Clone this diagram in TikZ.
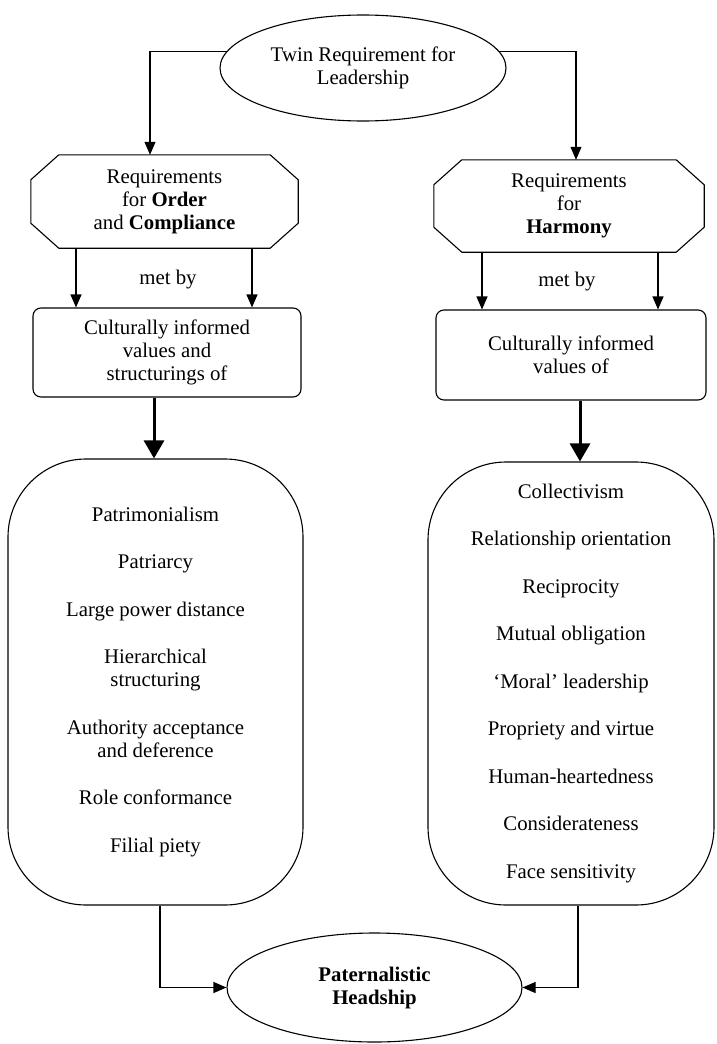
\documentclass[tikz,border=0pt]{standalone}
\usepackage{fontspec}
\setmainfont{Liberation Serif}
\usetikzlibrary{shapes.geometric,arrows.meta}
\begin{document}
\begin{tikzpicture}[x=1pt,y=-1pt,
  every node/.style={font=\fontsize{20.8}{23}\selectfont, align=center, inner sep=0pt},
  ln/.style={line width=1.1pt},
  arr/.style={ln, -{Triangle[length=13pt,width=11pt]}},
  thickarr/.style={line width=3pt, -{Triangle[length=18pt,width=20pt]}},
  ell/.style={draw, ellipse, ln},
  octnode/.style={rectangle},
  smallbox/.style={draw, rectangle, ln, rounded corners=8pt},
  bigbox/.style={draw, rectangle, ln, rounded corners=78pt},
]
\useasboundingbox (0,0) rectangle (716,1044);

% nodes
\node[ell, minimum width=286pt, minimum height=106pt] (top) at (363,68) {Twin Requirement for\\Leadership};

\node[octnode, minimum width=267pt, minimum height=93pt] (oL) at (164.5,201.5) {Requirements\\for \textbf{Order}\\and \textbf{Compliance}};
\node[octnode, minimum width=270pt, minimum height=92pt] (oR) at (569,206) {Requirements\\for\\\textbf{Harmony}};

\foreach \n in {oL,oR}{
  \draw[ln] ([xshift=28pt]\n.north west) -- ([xshift=-28pt]\n.north east)
    -- ([yshift=-25pt]\n.north east) -- ([yshift=25pt]\n.south east)
    -- ([xshift=-28pt]\n.south east) -- ([xshift=28pt]\n.south west)
    -- ([yshift=25pt]\n.south west) -- ([yshift=-25pt]\n.north west) -- cycle;
}

\node (mL) at (168,280) {met by};
\node (mR) at (567,282) {met by};

\node[smallbox, minimum width=268pt, minimum height=89pt] (bL) at (167,352.5) {Culturally informed\\values and\\structurings of};
\node[smallbox, minimum width=270pt, minimum height=90pt] (bR) at (571,355) {Culturally informed\\values of};

\node[bigbox, minimum width=295pt, minimum height=446pt] (BL) at (155.5,682) {Patrimonialism\\[24.5pt]
Patriarcy\\[24.5pt]
Large power distance\\[24.5pt]
Hierarchical\\structuring\\[24.5pt]
Authority acceptance\\and deference\\[24.5pt]
Role conformance\\[24.5pt]
Filial piety};

\node[bigbox, minimum width=286pt, minimum height=443pt] (BR) at (571,683.5) {Collectivism\\[24.5pt]
Relationship orientation\\[24.5pt]
Reciprocity\\[24.5pt]
Mutual obligation\\[24.5pt]
`Moral' leadership\\[24.5pt]
Propriety and virtue\\[24.5pt]
Human-heartedness\\[24.5pt]
Considerateness\\[24.5pt]
Face sensitivity};

\node[ell, minimum width=295pt, minimum height=109pt] (bot) at (374.5,987.5) {\textbf{Paternalistic}\\\textbf{Headship}};

% x positions of connectors
\coordinate (xa) at (76,0);
\coordinate (xb) at (252,0);
\coordinate (xc) at (482,0);
\coordinate (xd) at (658,0);
\coordinate (xt1) at (154,0);
\coordinate (xt2) at (580,0);
\coordinate (xe) at (160,0);
\coordinate (xf) at (578,0);

% connectors
\draw[arr] (top.173) -| ([xshift=-14.5pt]oL.north);
\draw[arr] (top.7) -| ([xshift=7pt]oR.north);

\draw[arr] (oL.south -| xa) -- (bL.north -| xa);
\draw[arr] (oL.south -| xb) -- (bL.north -| xb);
\draw[arr] (oR.south -| xc) -- (bR.north -| xc);
\draw[arr] (oR.south -| xd) -- (bR.north -| xd);

\draw[thickarr] (bL.south -| xt1) -- (BL.north -| xt1);
\draw[thickarr] (bR.south -| xt2) -- (BR.north -| xt2);

\draw[arr] (BL.south -| xe) |- (bot.west);
\draw[arr] (BR.south -| xf) |- (bot.east);
\end{tikzpicture}
\end{document}
